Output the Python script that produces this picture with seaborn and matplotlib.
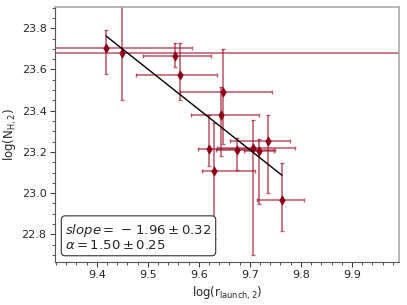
import numpy as np
import pandas as pd
import matplotlib
matplotlib.use("Agg")
import matplotlib.pyplot as plt
import seaborn as sns
from matplotlib.ticker import MultipleLocator

# ---- data ----
log_r = [9.418, 9.450, 9.554, 9.564, 9.647, 9.644, 9.619, 9.629, 9.675, 9.706, 9.718, 9.735, 9.763]
log_nh = [23.705, 23.680, 23.666, 23.574, 23.489, 23.380, 23.212, 23.109, 23.209, 23.220, 23.205, 23.255, 22.967]
xerr_lo = [0.168, 0.600, 0.063, 0.088, 0.083, 0.060, 0.021, 0.023, 0.042, 0.070, 0.030, 0.074, 0.049]
xerr_hi = [0.168, 0.600, 0.069, 0.072, 0.097, 0.073, 0.100, 0.081, 0.075, 0.083, 0.030, 0.044, 0.044]
yerr_lo = [0.125, 0.230, 0.054, 0.124, 0.250, 0.200, 0.080, 0.330, 0.095, 0.520, 0.260, 0.255, 0.150]
yerr_hi = [0.088, 0.230, 0.061, 0.153, 0.210, 0.135, 0.168, 0.230, 0.060, 0.134, 0.060, 0.125, 0.180]
fit_slope = -1.96
fit_intercept = 42.222
slope_err = 0.32
alpha_val = 1.50
alpha_err = 0.25

df = pd.DataFrame({"x": log_r, "y": log_nh})
fit_x = [min(log_r), max(log_r)]
fit_df = pd.DataFrame({"x": fit_x, "y": [fit_intercept + fit_slope * v for v in fit_x]})

sns.set_theme(style="white")
plt.rcParams['font.family'] = ['DejaVu Sans']

fig = plt.figure(figsize=(4.07, 3.05), dpi=100)
ax = fig.add_axes([0.135, 0.141, 0.845, 0.836])

col = "#8b0015"
ax.errorbar(df["x"], df["y"], xerr=[xerr_lo, xerr_hi], yerr=[yerr_lo, yerr_hi],
            fmt="none", ecolor="#a0102a", alpha=0.65, elinewidth=1.2,
            capsize=1.5, capthick=1.0, zorder=2)
sns.scatterplot(data=df, x="x", y="y", marker="d", s=22, color=col,
                edgecolor=col, linewidth=0.5, ax=ax, zorder=3)
sns.lineplot(data=fit_df, x="x", y="y", color="black", linewidth=1.0, ax=ax, zorder=4)

ax.set_xlim(9.318, 9.992)
ax.set_ylim(22.666, 23.903)
ax.xaxis.set_major_locator(MultipleLocator(0.1))
ax.xaxis.set_minor_locator(MultipleLocator(0.02))
ax.yaxis.set_major_locator(MultipleLocator(0.2))
ax.yaxis.set_minor_locator(MultipleLocator(0.05))
ax.tick_params(which="both", direction="out", bottom=True, left=True, top=False, right=False,
               labelsize=8, color="#333333", pad=2.5)
ax.tick_params(which="major", length=3.5, width=0.7)
ax.tick_params(which="minor", length=2, width=0.6)

ax.set_xlabel(r"log(r$_{\rm launch,2}$)", fontsize=8.5, labelpad=3)
ax.set_ylabel(r"log(N$_{\rm H,2}$)", fontsize=8.5, labelpad=2)

for side in ["left", "bottom"]:
    ax.spines[side].set_color("#555555")
    ax.spines[side].set_linewidth(0.8)
for side in ["top", "right"]:
    ax.spines[side].set_color("#aaaaaa")
    ax.spines[side].set_linewidth(1.2)

sign = r"\ {-}\;" if fit_slope < 0 else r"\ "
txt = (r"$slope =%s%.2f \pm %.2f$" % (sign, abs(fit_slope), slope_err) + "\n" +
       r"$\alpha = %.2f \pm %.2f$" % (alpha_val, alpha_err))
ax.text(0.03, 0.04, txt, transform=ax.transAxes, fontsize=9.5, va="bottom", ha="left",
        linespacing=1.0,
        bbox=dict(boxstyle="round,pad=0.3", facecolor="white", edgecolor="#333333", linewidth=0.8))

fig.savefig("out.png", dpi=100)
